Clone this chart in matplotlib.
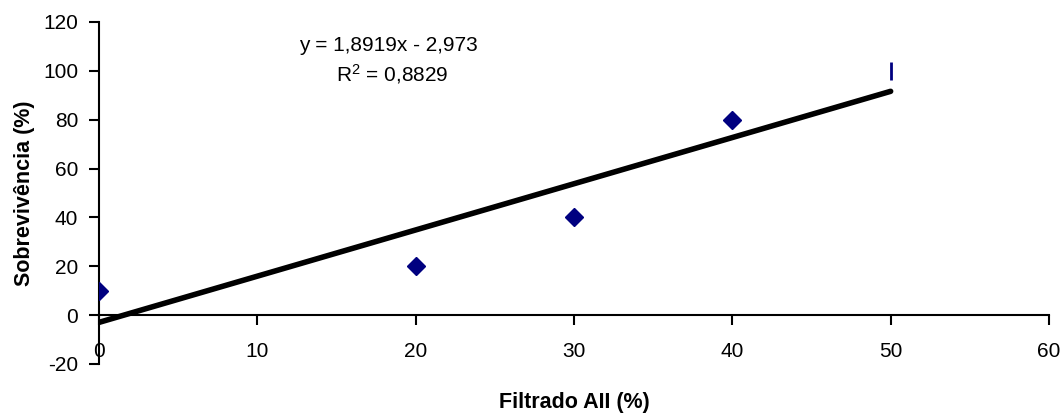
import matplotlib.pyplot as plt
import numpy as np

plt.rcParams['font.family'] = 'sans-serif'
plt.rcParams['font.sans-serif'] = ['Liberation Sans', 'Arial', 'DejaVu Sans']
plt.rcParams['axes.unicode_minus'] = False
plt.rcParams['mathtext.fontset'] = 'custom'
plt.rcParams['mathtext.rm'] = 'Liberation Sans'

# Data
filtrado = [0, 20, 30, 40, 50]
sobrevivencia = [10, 20, 40, 80, 100]

# Linear trendline
slope, intercept = np.polyfit(filtrado, sobrevivencia, 1)
r2 = np.corrcoef(filtrado, sobrevivencia)[0, 1] ** 2

fig = plt.figure(figsize=(10.63, 4.15), dpi=100)
ax = fig.add_axes([0.0931, 0.1229, 0.8937, 0.8241])

navy = '#000080'
ax.plot(filtrado[:-1], sobrevivencia[:-1], linestyle='none', marker='D',
        markersize=9.5, color=navy, zorder=3)
ax.plot(filtrado[-1:], sobrevivencia[-1:], linestyle='none', marker='|',
        markersize=13, markeredgewidth=2, color=navy, zorder=3)

xfit = np.array([min(filtrado), max(filtrado)])
ax.plot(xfit, slope * xfit + intercept, color='black', linewidth=4,
        solid_capstyle='round', zorder=2)

ax.set_xlim(0, 60)
ax.set_ylim(-20, 120)
ax.set_xticks(range(0, 61, 10))
ax.set_yticks(range(-20, 121, 20))

for side in ['top', 'right']:
    ax.spines[side].set_visible(False)
ax.spines['bottom'].set_position(('data', 0))
ax.spines['left'].set_linewidth(1.5)
ax.spines['bottom'].set_linewidth(1.5)
ax.tick_params(axis='both', direction='out', length=7, width=1.5,
               labelsize=15)
ax.tick_params(axis='x', pad=12)
ax.tick_params(axis='y', pad=8)

eq = 'y = {:.4f}x - {:.3f}'.format(slope, -intercept).replace('.', ',')
rt = 'R$^2$ = {:.4f}'.format(r2).replace('.', ',')
ax.text(18.3, 110.5, eq, ha='center', va='center', fontsize=15)
ax.text(18.5, 98.5, rt, ha='center', va='center', fontsize=15)

fig.text(0.0235, 0.535, 'Sobrevivência (%)', fontsize=15.5, fontweight='bold',
         rotation=90, ha='center', va='center')
fig.text(0.54, 0.031, 'Filtrado AII (%)', fontsize=15.5, fontweight='bold',
         ha='center', va='center')

fig.savefig('out.png', dpi=100)
